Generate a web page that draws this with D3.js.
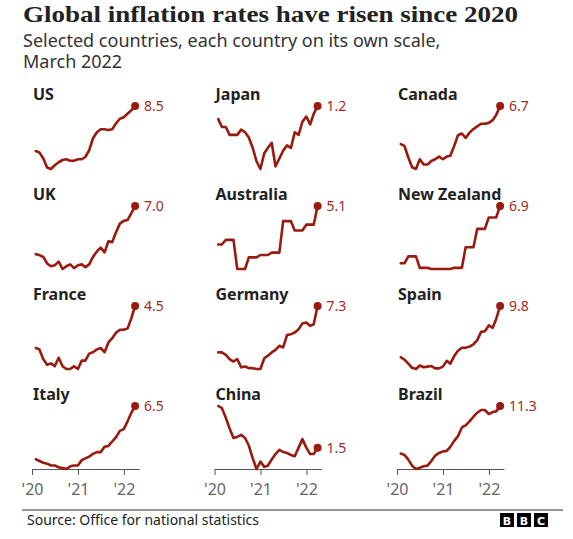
<!DOCTYPE html>
<html>
<head>
<meta charset="utf-8">
<script src="https://cdn.jsdelivr.net/npm/d3@7"></script>
<style>
  body { margin: 0; background: #fff; }
  svg { display: block; }
</style>
</head>
<body>
<div id="chart"></div>
<script>
// Annual inflation, monthly, Jan 2020 - Mar 2022
const countries = ["US", "Japan", "Canada", "UK", "Australia", "New Zealand",
                   "France", "Germany", "Spain", "Italy", "China", "Brazil"];

const us        = [2.5, 2.3, 1.5, 0.3, 0.1, 0.6, 1.0, 1.3, 1.4, 1.2, 1.2, 1.4, 1.4, 1.7, 2.6, 4.2, 5.0, 5.4, 5.4, 5.3, 5.4, 6.2, 6.8, 7.0, 7.5, 7.9, 8.5];
const japan     = [0.7, 0.4, 0.4, 0.1, 0.1, 0.1, 0.3, 0.2, 0.0, -0.4, -0.9, -1.2, -0.6, -0.4, -0.2, -1.1, -0.8, -0.5, -0.3, -0.4, 0.2, 0.1, 0.6, 0.8, 0.5, 0.9, 1.2];
const canada    = [2.4, 2.2, 0.9, -0.2, -0.4, 0.7, 0.1, 0.1, 0.5, 0.7, 1.0, 0.7, 1.0, 1.1, 2.2, 3.4, 3.6, 3.1, 3.7, 4.1, 4.4, 4.7, 4.7, 4.8, 5.1, 5.7, 6.7];
const uk        = [1.8, 1.7, 1.5, 0.8, 0.5, 0.6, 1.0, 0.2, 0.5, 0.7, 0.3, 0.6, 0.7, 0.4, 0.7, 1.5, 2.1, 2.5, 2.0, 3.2, 3.1, 4.2, 5.1, 5.4, 5.5, 6.2, 7.0];
const australia = [1.8, 1.8, 2.2, 2.2, 2.2, -0.3, -0.3, -0.3, 0.7, 0.7, 0.7, 0.9, 0.9, 0.9, 1.1, 1.1, 1.1, 3.8, 3.8, 3.8, 3.0, 3.0, 3.0, 3.5, 3.5, 3.5, 5.1];
const newZealand= [1.9, 1.9, 2.5, 2.5, 2.5, 1.5, 1.5, 1.5, 1.4, 1.4, 1.4, 1.4, 1.4, 1.4, 1.5, 1.5, 1.5, 3.3, 3.3, 3.3, 4.9, 4.9, 4.9, 5.9, 5.9, 5.9, 6.9];
const france    = [1.5, 1.4, 0.7, 0.3, 0.4, 0.2, 0.8, 0.2, 0.0, 0.0, 0.2, 0.0, 0.6, 0.6, 1.1, 1.2, 1.4, 1.5, 1.2, 1.9, 2.2, 2.6, 2.8, 2.8, 2.9, 3.6, 4.5];
const germany   = [1.7, 1.7, 1.4, 0.9, 0.6, 0.9, -0.1, 0.0, -0.2, -0.2, -0.3, -0.3, 1.0, 1.3, 1.7, 2.0, 2.5, 2.3, 3.8, 3.9, 4.1, 4.5, 5.2, 5.3, 4.9, 5.1, 7.3];
const spain     = [1.1, 0.7, 0.0, -0.7, -0.9, -0.3, -0.6, -0.5, -0.4, -0.8, -0.8, -0.5, 0.5, 0.0, 1.3, 2.2, 2.7, 2.7, 2.9, 3.3, 4.0, 5.4, 5.5, 6.5, 6.1, 7.6, 9.8];
const italy     = [0.5, 0.3, 0.1, 0.0, -0.2, -0.2, -0.4, -0.5, -0.6, -0.3, -0.2, -0.2, 0.4, 0.6, 0.8, 1.1, 1.3, 1.3, 1.9, 2.0, 2.5, 3.0, 3.7, 3.9, 4.8, 5.7, 6.5];
const china     = [5.4, 5.2, 4.3, 3.3, 2.4, 2.5, 2.7, 2.4, 1.7, 0.5, -0.5, 0.2, -0.3, -0.2, 0.4, 0.9, 1.3, 1.1, 1.0, 0.8, 0.7, 1.5, 2.3, 1.5, 0.9, 0.9, 1.5];
const brazil    = [4.2, 4.0, 3.3, 2.4, 1.9, 2.1, 2.3, 2.4, 3.1, 3.9, 4.3, 4.5, 4.6, 5.2, 6.1, 6.8, 8.1, 8.4, 9.0, 9.7, 10.3, 10.7, 10.7, 10.1, 10.4, 10.5, 11.3];

const series = [us, japan, canada, uk, australia, newZealand, france, germany, spain, italy, china, brazil];
const tickYears = [2020, 2021, 2022];

const W = 573, H = 539;
const red = "#991a0e";
const colX = [32, 214.5, 397];
const rowTop = [80, 180, 280, 380];

const svg = d3.select("#chart").append("svg")
  .attr("width", W)
  .attr("height", H);

// heading
svg.append("text")
  .attr("x", 23).attr("y", 22)
  .attr("font-family", "'Liberation Serif', serif")
  .attr("font-weight", "bold")
  .attr("font-size", 24)
  .attr("textLength", 495)
  .attr("lengthAdjust", "spacingAndGlyphs")
  .attr("fill", "#222")
  .text("Global inflation rates have risen since 2020");

// two-line subtitle as one text block
const sub = svg.append("text")
  .attr("x", 23).attr("y", 47)
  .attr("font-family", "'Noto Sans', sans-serif")
  .attr("font-size", 18)
  .attr("fill", "#333");
sub.append("tspan")
  .attr("x", 23)
  .text("Selected countries, each country on its own scale,");
sub.append("tspan")
  .attr("x", 23).attr("dy", 21)
  .text("March 2022");

// points plotted at month end
const dates = us.map((d, i) => new Date(2020, i + 1, 0));

countries.forEach((name, k) => {
  const col = k % 3, row = Math.floor(k / 3);
  const values = series[k];
  const data = values.map((v, i) => ({date: dates[i], value: v}));

  const g = svg.append("g")
    .attr("transform", "translate(" + colX[col] + "," + rowTop[row] + ")");

  const x = d3.scaleTime()
    .domain([new Date(2020, 0, 1), new Date(2022, 4, 1)])
    .range([0, 107]);
  const y = d3.scaleLinear()
    .domain(d3.extent(values))
    .range([89, 26]);

  g.append("text")
    .attr("x", 1).attr("y", 20)
    .attr("font-family", "'Noto Sans', sans-serif")
    .attr("font-weight", "bold")
    .attr("font-size", 16)
    .attr("fill", "#222")
    .text(name);

  if (row === 3) {
    const axis = d3.axisBottom(x)
      .tickValues(tickYears.map(yr => new Date(yr, 0, 1)))
      .tickFormat(d3.timeFormat("'%y"))
      .tickSizeOuter(0)
      .tickSizeInner(6)
      .tickPadding(9);
    const ag = g.append("g")
      .attr("transform", "translate(0,89)")
      .call(axis);
    ag.select(".domain").attr("stroke", "#555");
    ag.selectAll(".tick line").attr("stroke", "#555");
    ag.selectAll(".tick text")
      .attr("font-family", "'Noto Sans', sans-serif")
      .attr("font-size", 16)
      .attr("fill", "#666");
  }

  const line = d3.line()
    .x(d => x(d.date))
    .y(d => y(d.value));

  g.append("path")
    .datum(data)
    .attr("d", line)
    .attr("fill", "none")
    .attr("stroke", red)
    .attr("stroke-width", 2.6)
    .attr("stroke-linejoin", "round")
    .attr("stroke-linecap", "round");

  const last = data[data.length - 1];
  g.append("circle")
    .attr("cx", x(last.date))
    .attr("cy", y(last.value))
    .attr("r", 4)
    .attr("fill", red);

  g.append("text")
    .attr("x", x(last.date) + 9)
    .attr("y", y(last.value))
    .attr("dy", "0.35em")
    .attr("font-family", "'Noto Sans', sans-serif")
    .attr("font-size", 14)
    .attr("fill", "#a52a1c")
    .text(d3.format(".1f")(last.value));
});

// footer
svg.append("line")
  .attr("x1", 22).attr("x2", 563)
  .attr("y1", 510).attr("y2", 510)
  .attr("stroke", "#333")
  .attr("stroke-width", 1);

svg.append("text")
  .attr("x", 27).attr("y", 525)
  .attr("font-family", "'Noto Sans', sans-serif")
  .attr("font-size", 14)
  .attr("fill", "#222")
  .text("Source: Office for national statistics");

const logo = svg.append("g").attr("transform", "translate(500,513)");
["B", "B", "C"].forEach((ch, i) => {
  logo.append("rect")
    .attr("x", i * 17).attr("y", 0)
    .attr("width", 14).attr("height", 14)
    .attr("fill", "#000");
  logo.append("text")
    .attr("x", i * 17 + 7).attr("y", 11.5)
    .attr("text-anchor", "middle")
    .attr("font-family", "'DejaVu Sans', sans-serif")
    .attr("font-weight", "bold")
    .attr("font-size", 11)
    .attr("fill", "#fff")
    .text(ch);
});
</script>
</body>
</html>
